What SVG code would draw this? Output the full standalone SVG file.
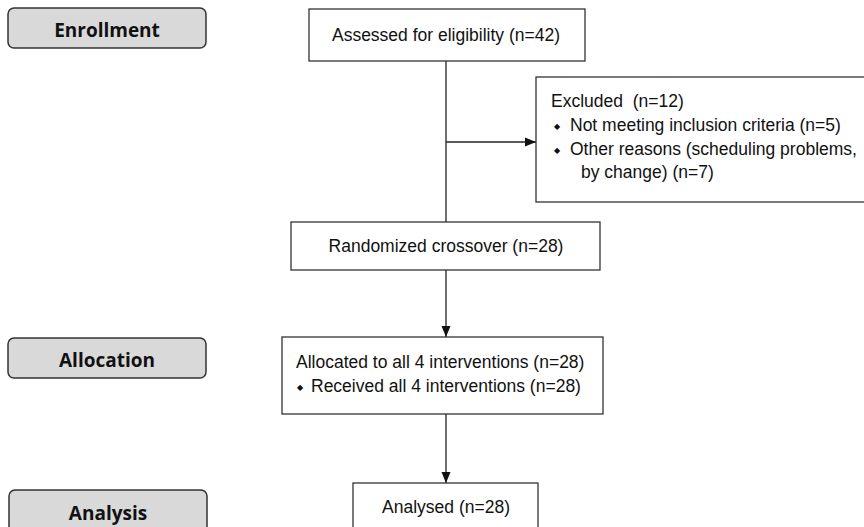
<svg xmlns="http://www.w3.org/2000/svg" width="864" height="527" viewBox="0 0 864 527">
<defs>
<style>
.phase{fill:#d9d9d9;stroke:#333;stroke-width:1.5}
.ptxt{font-family:"Open Sans","Noto Sans",sans-serif;font-weight:bold;font-size:19px;fill:#111;text-anchor:middle}
.box{fill:#fff;stroke:#333;stroke-width:1.3}
.t{font-family:"Liberation Sans",Arial,sans-serif;font-size:17.5px;fill:#111;white-space:pre}
.b{font-family:"DejaVu Sans",sans-serif;font-size:8px;fill:#111}
.c{text-anchor:middle}
.ln{stroke:#222;stroke-width:1.3;fill:none}
</style>
<marker id="ah" markerWidth="12" markerHeight="12" refX="11" refY="6" orient="auto" markerUnits="userSpaceOnUse">
<path d="M0,1.5 L11,6 L0,10.5 Z" fill="#111"/>
</marker>
</defs>
<rect width="864" height="527" fill="#fff"/>
<g id="enrollment"><rect class="phase" x="8" y="8" width="198" height="40" rx="6"/><text class="ptxt" x="107" y="37">Enrollment</text></g>
<g id="allocation"><rect class="phase" x="8" y="338" width="198" height="40" rx="6"/><text class="ptxt" x="107" y="367">Allocation</text></g>
<g id="analysis"><rect class="phase" x="9" y="490" width="198" height="50" rx="6"/><text class="ptxt" x="108" y="520">Analysis</text></g>
<g id="connectors">
<line class="ln" x1="446" y1="61" x2="446" y2="222"/>
<line class="ln" x1="446" y1="142" x2="536" y2="142" marker-end="url(#ah)"/>
<line class="ln" x1="446" y1="270" x2="446" y2="337" marker-end="url(#ah)"/>
<line class="ln" x1="446" y1="414" x2="446" y2="483" marker-end="url(#ah)"/>
</g>
<g id="assessed"><rect class="box" x="309" y="9" width="276" height="52"/><text class="t c" x="446" y="41">Assessed for eligibility (n=42)</text></g>
<g id="excluded"><rect class="box" x="536" y="77" width="340" height="125"/>
<text class="t" x="551" y="107" xml:space="preserve">Excluded  (n=12)</text>
<text class="b" x="554" y="129">◆</text><text class="t" x="570" y="131">Not meeting inclusion criteria (n=5)</text>
<text class="b" x="554" y="153">◆</text><text class="t" x="570" y="155">Other reasons (scheduling problems,</text>
<text class="t" x="581" y="178">by change) (n=7)</text>
</g>
<g id="randomized"><rect class="box" x="291" y="222" width="309" height="48"/><text class="t c" x="446" y="252">Randomized crossover (n=28)</text></g>
<g id="allocated"><rect class="box" x="282" y="337" width="321" height="77"/>
<text class="t" x="296" y="368">Allocated to all 4 interventions (n=28)</text>
<text class="b" x="297" y="390">◆</text><text class="t" x="311" y="392">Received all 4 interventions (n=28)</text>
</g>
<g id="analysed"><rect class="box" x="353" y="483" width="185" height="60"/><text class="t c" x="446" y="513">Analysed (n=28)</text></g>
</svg>
